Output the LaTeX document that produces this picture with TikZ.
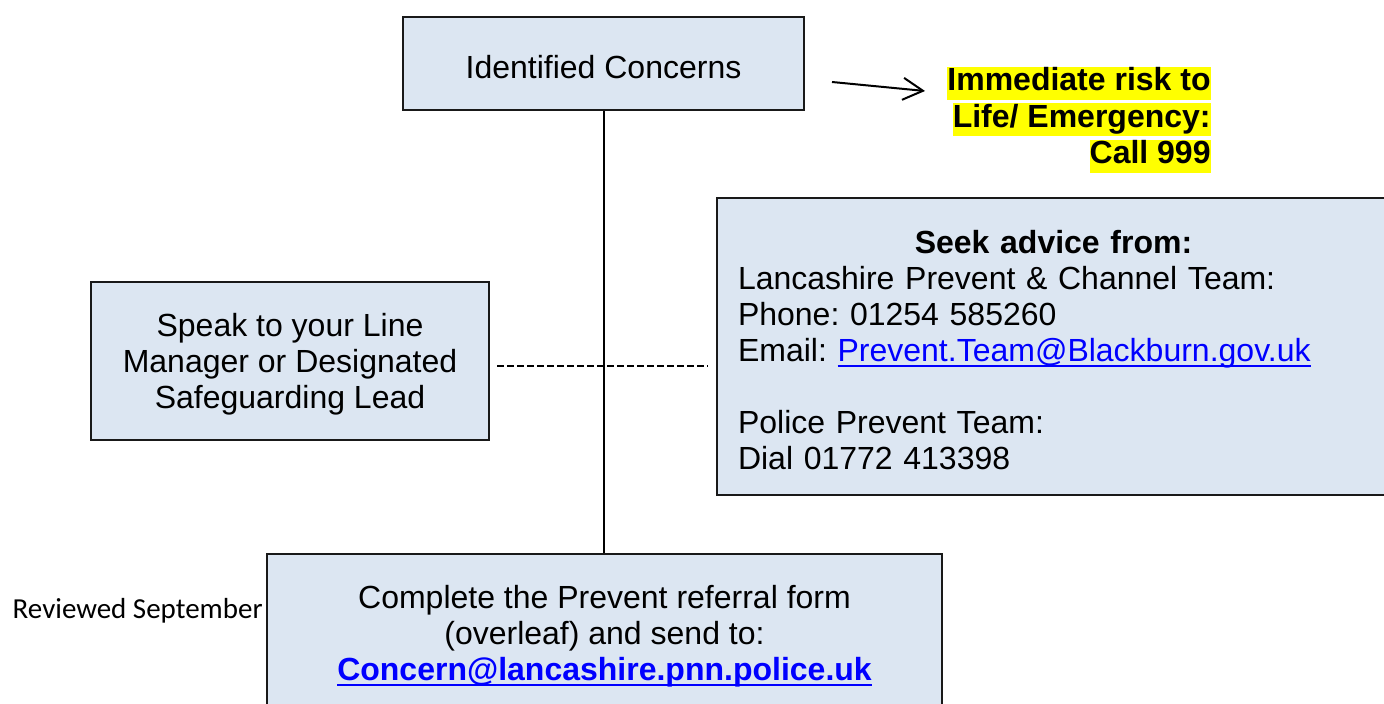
\documentclass[tikz,border=0pt]{standalone}
\usepackage{fontspec}
\setmainfont{Liberation Sans}
\newfontfamily\calibri{Carlito}
\usetikzlibrary{arrows.meta}
\frenchspacing
\definecolor{boxfill}{RGB}{220,230,242}
\definecolor{linkblue}{RGB}{0,0,255}
\definecolor{hl}{RGB}{255,255,0}
\newsavebox\lnkbox
\newcommand{\lnk}[1]{\textcolor{linkblue}{\sbox\lnkbox{#1}\rlap{\rule[-2.8pt]{\wd\lnkbox}{1pt}}\usebox\lnkbox}}
\begin{document}
\begin{tikzpicture}[x=0.5pt,y=-0.5pt,
  box/.style={draw=black!90, line width=1.4pt, fill=boxfill, inner sep=0pt},
  lbl/.style={align=center, inner sep=0pt, yshift=-1.75pt, font=\fontsize{16}{18}\selectfont},
  conn/.style={line width=1pt},
  dashconn/.style={line width=1pt, dash pattern=on 3.5pt off 1.5pt},
  hi/.style={fill=hl, inner sep=0pt, anchor=east, font=\fontsize{16}{18}\selectfont\bfseries,
             text height=12pt, text depth=4.5pt}]
\useasboundingbox (0,0) rectangle (1384,704);
\fill[white] (0,0) rectangle (1384,704);

\node[box, minimum width=200.5pt, minimum height=46.5pt,
      label={[lbl]center:Identified Concerns}] (ic) at (603.5,63.5) {};

\node[box, minimum width=199pt, minimum height=79pt,
      label={[lbl]center:{Speak to your Line\\Manager or Designated\\Safeguarding Lead}}] (speak) at (290,361) {};

\node[box, minimum width=341.5pt, minimum height=148.5pt,
      label={[lbl, text width=315.5pt, align=left, xshift=-2.5pt]center:{%
   \makebox[\linewidth][c]{\bfseries Seek advice from:}\\
   Lancashire Prevent \& Channel Team:\\
   Phone: 01254 585260\\
   Email: \lnk{Prevent.Team@Blackburn.gov.uk}\\[18pt]
   Police Prevent Team:\\
   Dial 01772 413398}}] (advice) at (1058.5,346.5) {};

\node[box, minimum width=337.5pt, minimum height=79pt,
      label={[lbl]center:{Complete the Prevent referral form\\(overleaf) and send to:\\
   {\bfseries\lnk{Concern@lancashire.pnn.police.uk}}}}] (ref) at (604.5,633) {};

\node[hi] (r1) at (1211,83.5) {Immediate risk to};
\node[hi] (r2) at (1211,120) {Life/ Emergency:};
\node[hi] (r3) at (1211,156.5) {Call 999};

\node[anchor=east, inner sep=0pt, font=\calibri\fontsize{14.5}{17}\selectfont] (rev) at (263,611) {Reviewed September};

\draw[conn] (ic.south) -- (ic.south |- ref.north);
\coordinate (d1) at (497,366);
\coordinate (d2) at (708,366);
\draw[dashconn] (d1) -- (d2);
\coordinate (a1) at (832,82);
\coordinate (a2) at (925,91);
\draw[conn, -{Straight Barb[length=10pt,width=11pt]}] (a1) -- (a2);
\end{tikzpicture}
\end{document}
